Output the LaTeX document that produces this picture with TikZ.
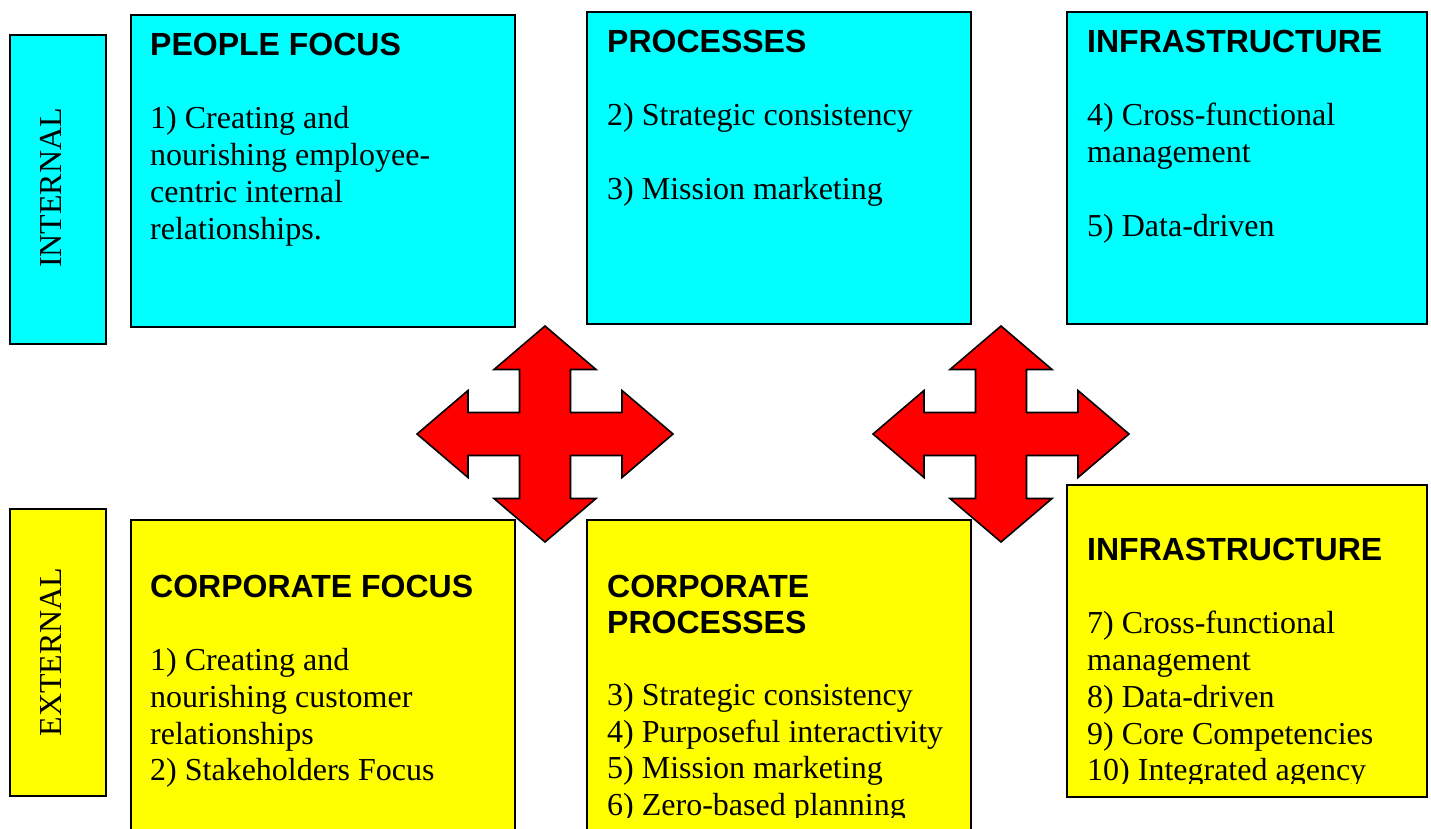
\documentclass[tikz,border=0pt]{standalone}
\usepackage{fontspec}
\setmainfont{Liberation Serif}
\newfontfamily\headfont{Liberation Sans}
\definecolor{boxcyan}{RGB}{0,255,255}
\definecolor{boxyellow}{RGB}{255,255,0}
\definecolor{arrowred}{RGB}{255,0,0}
\begin{document}
\begin{tikzpicture}[x=1pt,y=-1pt,
  box/.style={draw=black, line width=1.6pt, inner sep=0pt, anchor=north west},
  cbox/.style={box, fill=boxcyan},
  ybox/.style={box, fill=boxyellow},
  head/.style={anchor=base west, inner sep=0pt, font=\headfont\bfseries\fontsize{32}{37}\selectfont},
  body/.style={anchor=base west, inner sep=0pt, font=\fontsize{32}{37}\selectfont},
  side/.style={anchor=base, inner sep=0pt, rotate=90, font=\fontsize{32}{37}\selectfont},
  quad/.style={fill=arrowred, draw=black, line width=1.6pt, line join=miter},
  quadarrow/.pic={
    \draw[quad] (0,-108) -- (51,-64.5) -- (25.5,-64.5) -- (25.5,-21.5) -- (77,-21.5) -- (77,-43.5)
      -- (128,0) -- (77,43.5) -- (77,21.5) -- (25.5,21.5) -- (25.5,64.5) -- (51,64.5)
      -- (0,108) -- (-51,64.5) -- (-25.5,64.5) -- (-25.5,21.5) -- (-77,21.5) -- (-77,43.5)
      -- (-128,0) -- (-77,-43.5) -- (-77,-21.5) -- (-25.5,-21.5) -- (-25.5,-64.5) -- (-51,-64.5) -- cycle;
  }]
\clip (0,0) rectangle (1431,828);
\fill[white] (0,0) rectangle (1431,828);

% internal row
\node[cbox, minimum width=96pt, minimum height=309pt] (int) at (9,34) {};
\node[side] (intl) at (61,188) {INTERNAL};

\node[cbox, minimum width=384pt, minimum height=312pt] (pf) at (130,14) {};
\node[head] (pfh) at (150,55) {PEOPLE FOCUS};
\node[body] (pf1) at (150,128) {1) Creating and};
\node[body] (pf2) at (150,165) {nourishing employee-};
\node[body] (pf3) at (150,202) {centric internal};
\node[body] (pf4) at (150,239) {relationships.};

\node[cbox, minimum width=384pt, minimum height=312pt] (pr) at (586,11) {};
\node[head] (prh) at (607,52) {PROCESSES};
\node[body] (pr1) at (607,125) {2) Strategic consistency};
\node[body] (pr2) at (607,199) {3) Mission marketing};

\node[cbox, minimum width=360pt, minimum height=312pt] (inf) at (1066,11) {};
\node[head] (infh) at (1087,52) {INFRASTRUCTURE};
\node[body] (inf1) at (1087,125) {4) Cross-functional};
\node[body] (inf2) at (1087,162) {management};
\node[body] (inf3) at (1087,236) {5) Data-driven};

% external row
\node[ybox, minimum width=96pt, minimum height=287pt] (ext) at (9,508) {};
\node[side] (extl) at (61,652) {EXTERNAL};

\node[ybox, minimum width=384pt, minimum height=340pt] (cf) at (130,519) {};
\node[head] (cfh) at (150,597) {CORPORATE FOCUS};
\node[body] (cf1) at (150,670) {1) Creating and};
\node[body] (cf2) at (150,707) {nourishing customer};
\node[body] (cf3) at (150,744) {relationships};
\node[body] (cf4) at (150,780) {2) Stakeholders Focus};

\node[ybox, minimum width=384pt, minimum height=340pt] (cp) at (586,519) {};
\begin{scope}
\clip (586,519) rectangle (970,817);
\node[head] (cph1) at (607,597) {CORPORATE};
\node[head] (cph2) at (607,633) {PROCESSES};
\node[body] (cp1) at (607,705) {3) Strategic consistency};
\node[body] (cp2) at (607,742) {4) Purposeful interactivity};
\node[body] (cp3) at (607,778) {5) Mission marketing};
\node[body] (cp4) at (607,815) {6) Zero-based planning};
\end{scope}

\node[ybox, minimum width=360pt, minimum height=312pt] (inx) at (1066,484) {};
\begin{scope}
\clip (1066,484) rectangle (1426,783);
\node[head] (inxh) at (1087,560) {INFRASTRUCTURE};
\node[body] (inx1) at (1087,633) {7) Cross-functional};
\node[body] (inx2) at (1087,670) {management};
\node[body] (inx3) at (1087,707) {8) Data-driven};
\node[body] (inx4) at (1087,744) {9) Core Competencies};
\node[body] (inx5) at (1087,780) {10) Integrated agency};
\end{scope}

% quad arrows
\pic (qa) at (545,434) {quadarrow};
\pic (qb) at (1001,434) {quadarrow};
\end{tikzpicture}
\end{document}
